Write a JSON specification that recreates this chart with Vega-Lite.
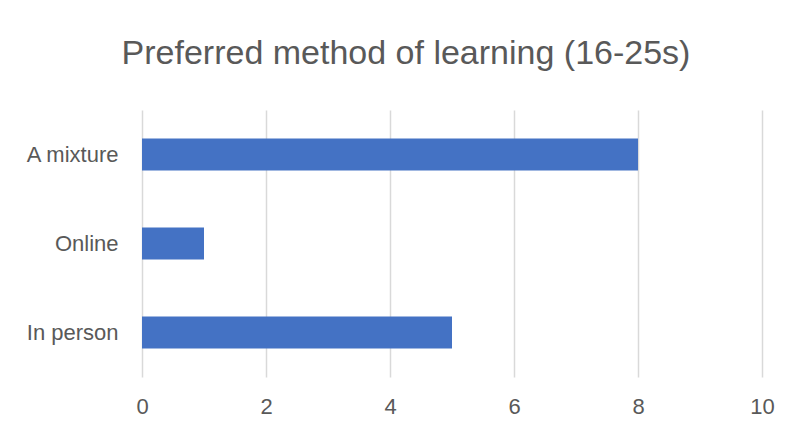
{
  "$schema": "https://vega.github.io/schema/vega-lite/v6.json",
  "width": 620,
  "height": 267,
  "autosize": "none",
  "padding": {"left": 142, "top": 110, "right": 30, "bottom": 55},
  "background": "white",
  "title": {
    "text": "Preferred method of learning (16-25s)",
    "font": "Liberation Sans",
    "fontSize": 34,
    "fontWeight": "normal",
    "color": "#595959",
    "anchor": "middle",
    "frame": "group",
    "baseline": "alphabetic",
    "offset": 12,
    "dx": -46
  },
  "data": {
    "values": [
      {"method": "A mixture", "count": 8},
      {"method": "Online", "count": 1},
      {"method": "In person", "count": 5}
    ]
  },
  "mark": {"type": "bar", "color": "#4472C4", "height": {"band": 0.36}},
  "encoding": {
    "y": {
      "field": "method",
      "type": "nominal",
      "sort": ["A mixture", "Online", "In person"],
      "scale": {"paddingInner": 0, "paddingOuter": 0},
      "axis": {
        "title": null,
        "domain": false,
        "ticks": false,
        "labelFont": "Liberation Sans",
        "labelFontSize": 22,
        "labelColor": "#595959",
        "labelPadding": 24
      }
    },
    "x": {
      "field": "count",
      "type": "quantitative",
      "scale": {"domain": [0, 10], "nice": false},
      "axis": {
        "title": null,
        "values": [0, 2, 4, 6, 8, 10],
        "domain": false,
        "ticks": false,
        "grid": true,
        "gridColor": "#d9d9d9",
        "gridWidth": 1.5,
        "labelFlush": false,
        "labelFont": "Liberation Sans",
        "labelFontSize": 22,
        "labelColor": "#595959",
        "labelPadding": 19
      }
    }
  },
  "config": {"view": {"stroke": null}}
}
